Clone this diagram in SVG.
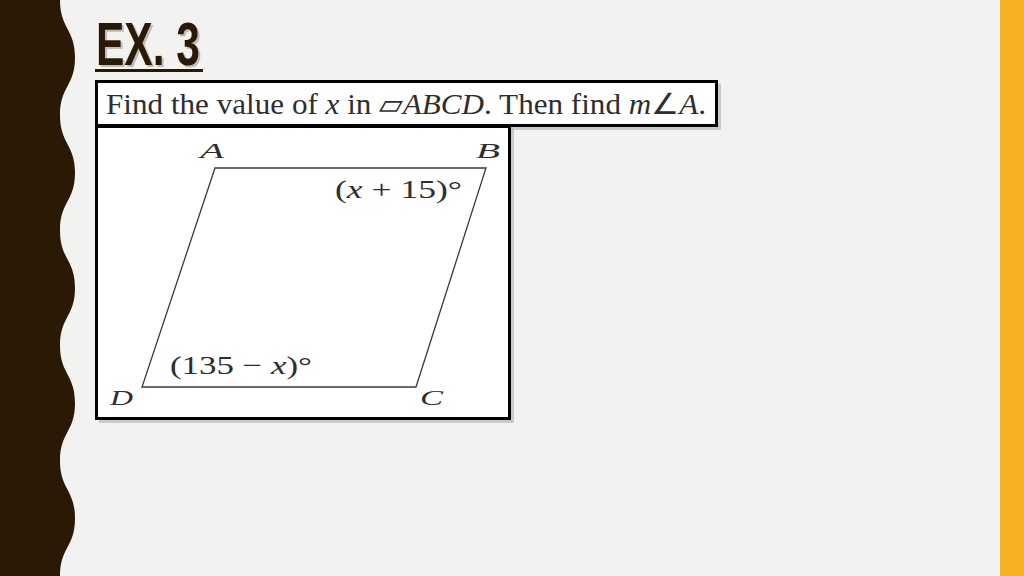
<svg xmlns="http://www.w3.org/2000/svg" width="1024" height="576" viewBox="0 0 1024 576">
  <defs>
    <style>
      .serif { font-family: "Liberation Serif", "Times New Roman", serif; fill: #2e2e2e; }
      .it { font-style: italic; }
      .box { fill: #ffffff; stroke: #000000; stroke-width: 3; }
      .shadow { fill: #9a9a9a; opacity: 0.45; }
    </style>
  </defs>
  <rect x="0" y="0" width="1024" height="576" fill="#f2f2f0"/>
  <!-- left wavy band -->
  <path fill="#2a1a05" d="M0,0 L60,0 C60,28.8 75,28.8 75,57.6 C75,86.4 60,86.4 60,115.2 C60,144 75,144 75,172.8 C75,201.6 60,201.6 60,230.4 C60,259.2 75,259.2 75,288 C75,316.8 60,316.8 60,345.6 C60,374.4 75,374.4 75,403.2 C75,432 60,432 60,460.8 C60,489.6 75,489.6 75,518.4 C75,547.2 60,547.2 60,576 L0,576 Z"/>
  <!-- right orange bar -->
  <rect x="1000" y="0" width="24" height="576" fill="#f6b024"/>

  <!-- title -->
  <g id="title">
    <text x="98" y="67" font-family="Liberation Sans, Arial, sans-serif" font-weight="bold" font-size="61" fill="#8a8a8a" opacity="0.5" textLength="104" lengthAdjust="spacingAndGlyphs">EX. 3</text>
    <text x="96" y="65" font-family="Liberation Sans, Arial, sans-serif" font-weight="bold" font-size="61" fill="#2a1a05" textLength="104" lengthAdjust="spacingAndGlyphs">EX. 3</text>
    <rect x="95" y="69" width="108" height="3" fill="#2a1a05"/>
  </g>

  <!-- question box -->
  <g id="question">
    <rect class="shadow" x="98" y="84" width="623" height="46"/>
    <rect class="box" x="96.5" y="81.5" width="620" height="44"/>
    <text class="serif" x="106" y="114" font-size="29" textLength="600" lengthAdjust="spacingAndGlyphs">Find the value of <tspan class="it">x</tspan> in ▱<tspan class="it">ABCD</tspan>. Then find <tspan class="it">m</tspan>∠<tspan class="it">A</tspan>.</text>
  </g>

  <!-- figure box -->
  <g id="figure">
    <rect class="shadow" x="99" y="129" width="415" height="294"/>
    <rect class="box" x="96.5" y="126.5" width="413" height="292"/>
    <polygon points="215,168 486,168 416,387 142,387" fill="none" stroke="#3a3a3a" stroke-width="1.3"/>
    <text class="serif it" x="200" y="158" font-size="22" textLength="24" lengthAdjust="spacingAndGlyphs">A</text>
    <text class="serif it" x="476" y="158" font-size="22" textLength="24" lengthAdjust="spacingAndGlyphs">B</text>
    <text class="serif it" x="420" y="405" font-size="22" textLength="23" lengthAdjust="spacingAndGlyphs">C</text>
    <text class="serif it" x="110" y="405" font-size="22" textLength="23" lengthAdjust="spacingAndGlyphs">D</text>
    <text class="serif" x="335" y="198" font-size="26" textLength="127" lengthAdjust="spacingAndGlyphs">(<tspan class="it">x</tspan> + 15)°</text>
    <text class="serif" x="170" y="374" font-size="26" textLength="142" lengthAdjust="spacingAndGlyphs">(135 − <tspan class="it">x</tspan>)°</text>
  </g>
</svg>
